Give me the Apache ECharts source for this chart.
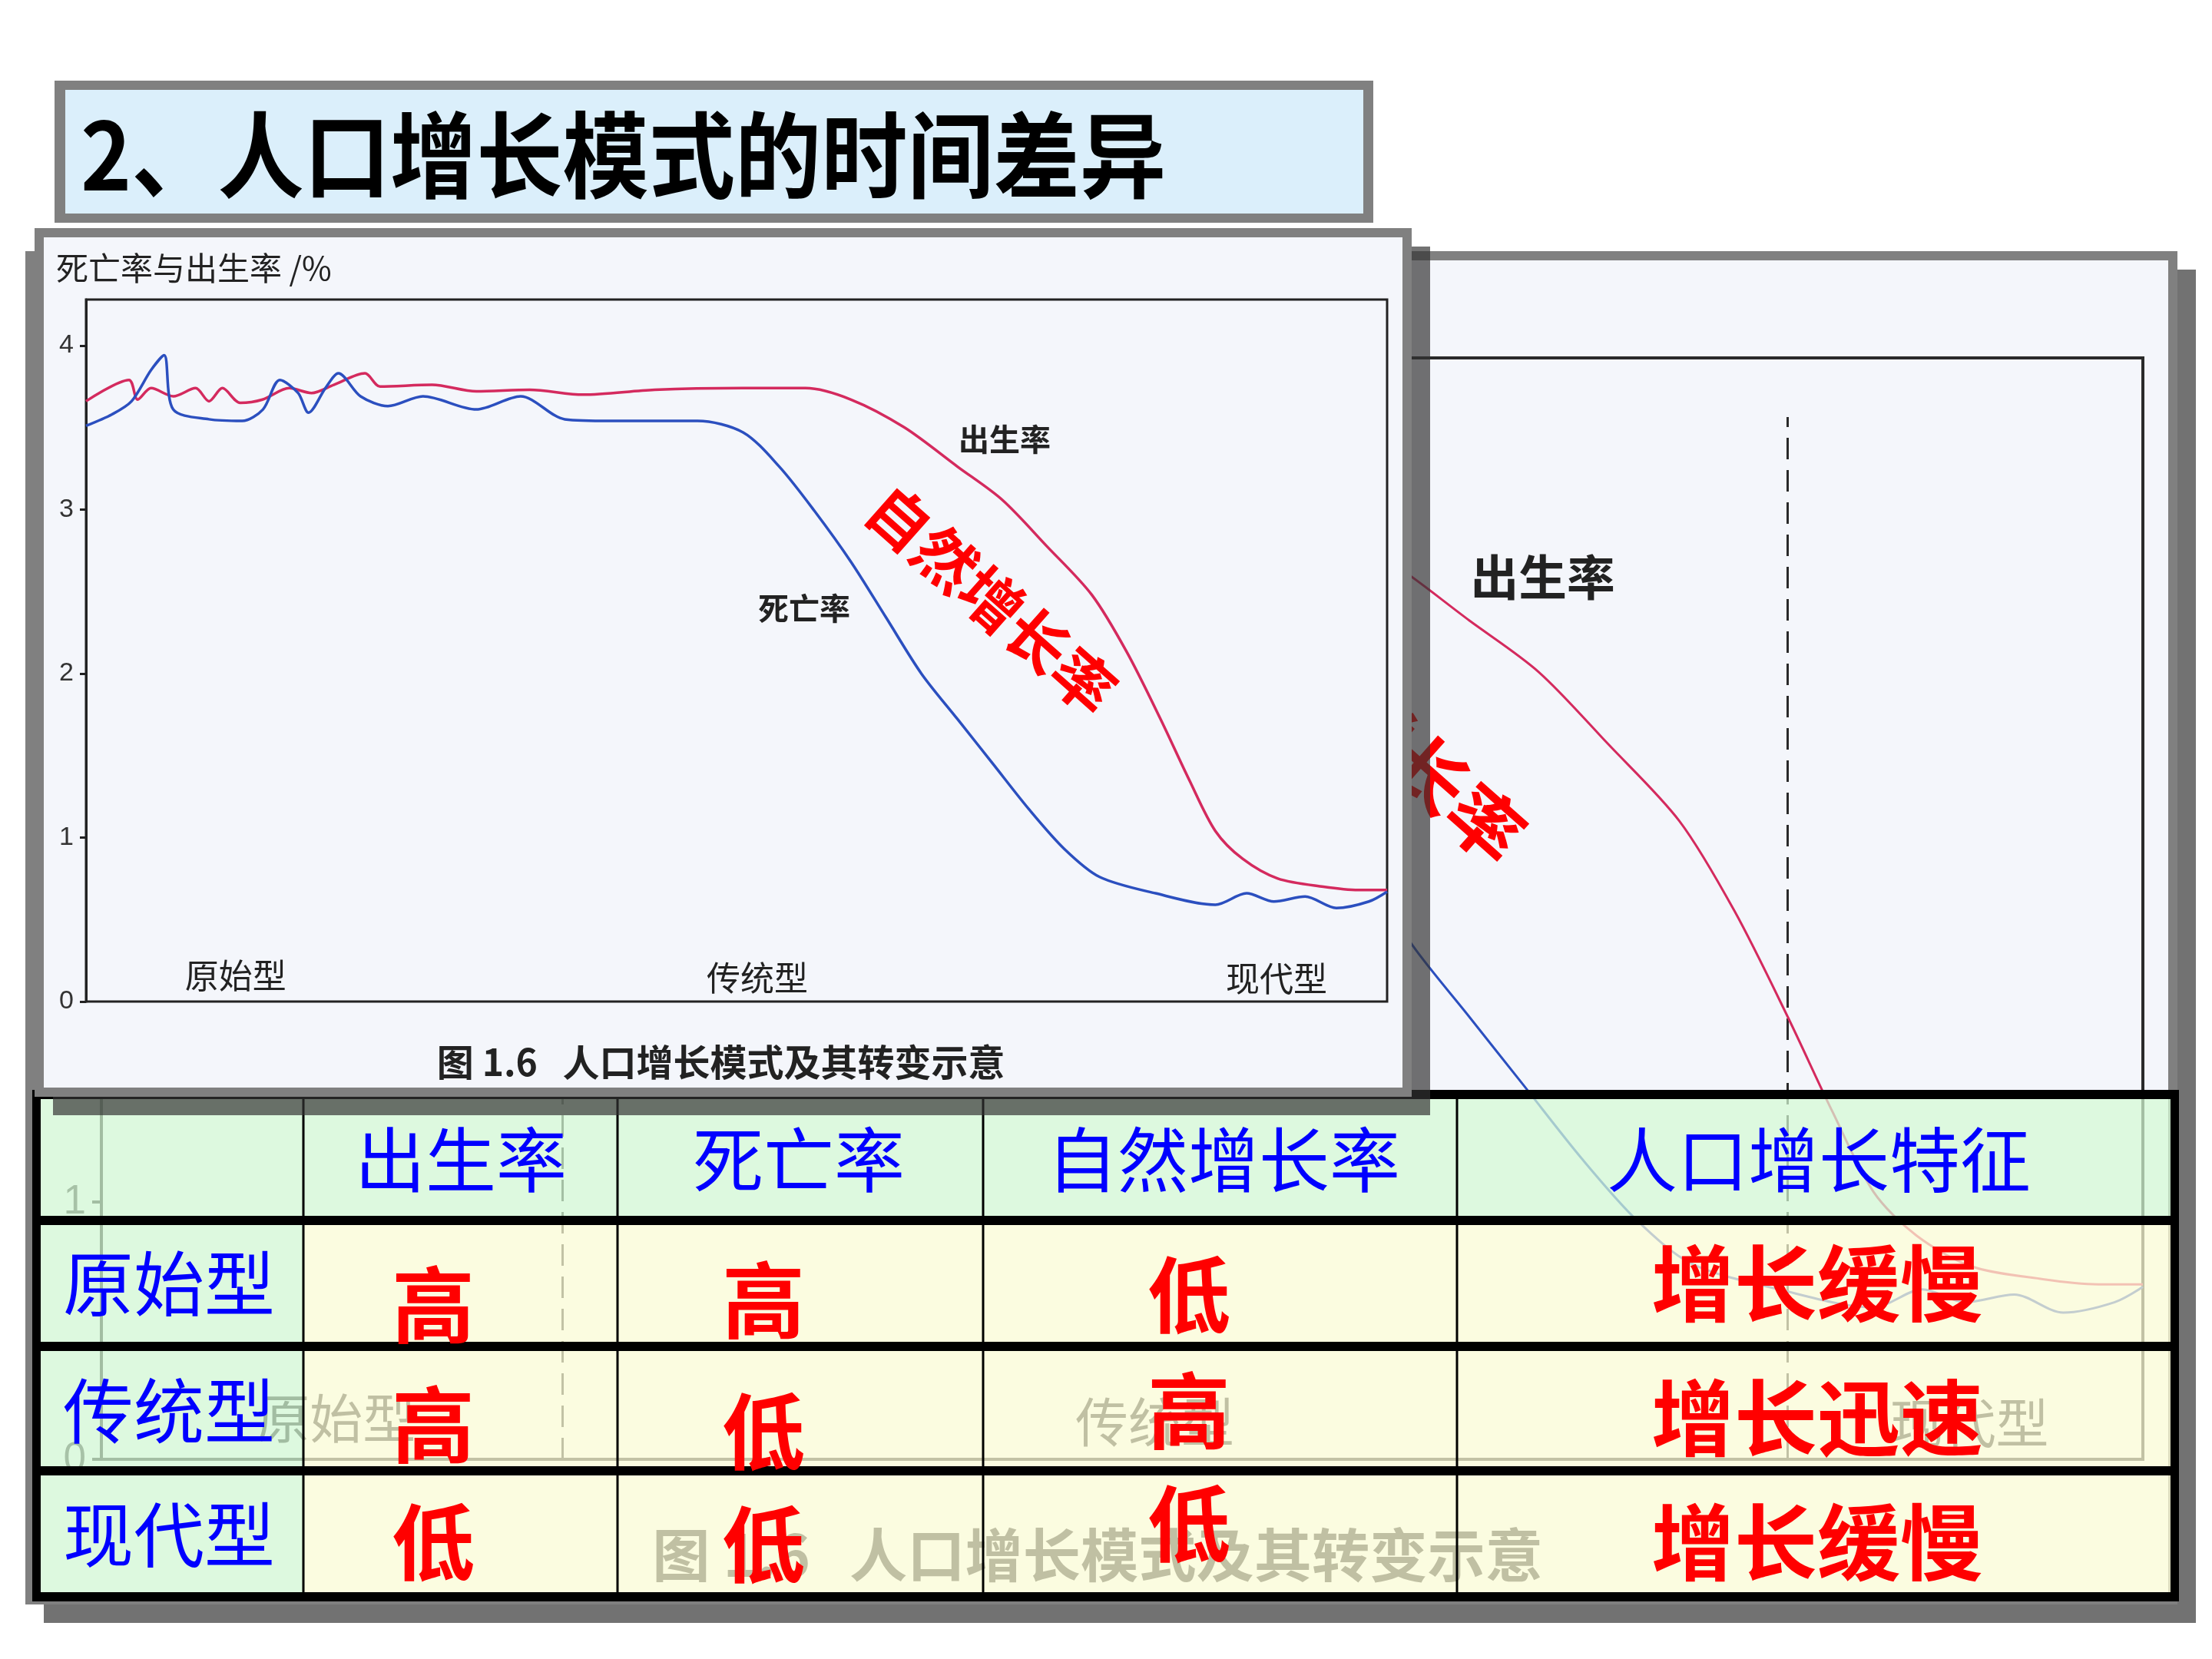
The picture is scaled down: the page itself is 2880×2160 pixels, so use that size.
<!DOCTYPE html>
<html lang="zh">
<head>
<meta charset="UTF-8">
<title>人口增长模式的时间差异</title>
<style>
  html, body { margin: 0; padding: 0; background: #fff; }
  #main { width: 2880px; height: 2160px; }
</style>
<script src="https://cdn.jsdelivr.net/npm/echarts@6/dist/echarts.min.js"></script>
</head>
<body>
<div id="main"></div>
<script>
// 曲线数据（横轴为演变进程 0-100）
var birthX = [0, 3.3, 3.97, 5.0, 6.71, 8.42, 9.45, 10.48, 11.85, 13.56, 15.62, 17.33, 19.04, 21.44, 22.6, 26.6, 30.0, 34.1, 38.2, 43.7,
  50.5, 55.3, 58.8, 62.9, 67.0, 70.4, 73.8, 77.3, 80.0, 82.6, 84.8, 86.8, 88.9, 91.6, 95.1, 97.8, 100];
var birthRate = [3.66, 3.79, 3.67, 3.74, 3.69, 3.74, 3.66, 3.74, 3.65, 3.67, 3.74, 3.71, 3.76, 3.83, 3.75, 3.76, 3.72, 3.73, 3.70, 3.73,
  3.74, 3.74, 3.67, 3.50, 3.26, 3.06, 2.78, 2.48, 2.13, 1.72, 1.35, 1.04, 0.87, 0.75, 0.70, 0.68, 0.68];
var deathX = [0, 2, 3.5, 5, 6, 6.7, 9.45, 12, 13.6, 14.9, 16.3, 17.1, 18.4, 19.4, 21.1, 23.2, 25.9, 30, 33.4, 36.8,
  40.3, 47, 50.5, 53.3, 56, 58.8, 61.5, 64.2, 67, 69.7, 72.5, 75.2, 77.9, 82.2, 86.8, 89.2, 91.3, 93.7, 96.1, 98.6, 100];
var deathRate = [3.51, 3.58, 3.66, 3.85, 3.94, 3.61, 3.55, 3.54, 3.61, 3.79, 3.71, 3.59, 3.74, 3.83, 3.69, 3.63, 3.69, 3.61, 3.69, 3.55,
  3.54, 3.54, 3.47, 3.26, 2.99, 2.68, 2.34, 2.00, 1.72, 1.45, 1.17, 0.93, 0.76, 0.66, 0.59, 0.66, 0.61, 0.64, 0.57, 0.61, 0.67];
var yTicks = [0, 1, 2, 3, 4];
var stageBounds = [22.6, 82.6];
var stageNames = ['原始型', '传统型', '现代型'];

// 表格
var tableHead = ['出生率', '死亡率', '自然增长率', '人口增长特征'];
var tableRows = ['原始型', '传统型', '现代型'];
var tableValues = [
  ['高', '高', '低', '增长缓慢'],
  ['高', '低', '高', '增长迅速'],
  ['低', '低', '低', '增长缓慢']
];
var titleText = '2、人口增长模式的时间差异';
var captionText = '图 1.6   人口增长模式及其转变示意';

var RED = '#d42a5e', BLUE = '#2b4fbf';
var FONT = '"Noto Sans CJK SC", "Noto Sans", sans-serif';
var K = 1.568; // 背景放大图的比例

function pairs(xs, ys) { return xs.map(function (x, i) { return [x, ys[i]]; }); }

function dashLines(top) {
  return stageBounds.map(function (x) { return [{ coord: [x, 0] }, { coord: [x, top] }]; });
}

function lineSeries(g, name, xs, ys, color, width, z, dash) {
  var s = {
    type: 'line', name: name, xAxisIndex: g, yAxisIndex: g,
    data: pairs(xs, ys), showSymbol: false, smooth: 0.3, z: z,
    lineStyle: { color: color, width: width }, silent: true
  };
  if (dash) {
    s.markLine = {
      silent: true, symbol: ['none', 'none'], label: { show: false },
      lineStyle: { type: dash, color: '#2a2a2a', width: g === 0 ? 3 : 2 },
      data: dashLines(4.05)
    };
  }
  return s;
}

function yAxisOf(g, z, size, tickLen, w) {
  return {
    gridIndex: g, type: 'value', min: 0, max: 4.28, interval: 1, z: z,
    axisLine: { show: true, lineStyle: { color: '#222', width: w } },
    axisTick: { show: true, length: tickLen, customValues: yTicks, lineStyle: { color: '#222', width: w } },
    axisLabel: {
      customValues: yTicks, fontSize: size, color: '#333', margin: tickLen + 8,
      fontFamily: '"Liberation Sans", Arial, sans-serif',
      formatter: function (v) { return Number.isInteger(v) ? String(v) : ''; }
    },
    splitLine: { show: false }
  };
}

function xAxisOf(g, z) {
  return {
    gridIndex: g, type: 'value', min: 0, max: 100, z: z,
    axisLine: { show: false }, axisTick: { show: false },
    axisLabel: { show: false }, splitLine: { show: false }
  };
}

var chart = echarts.init(document.getElementById('main'));
chart.setOption({
  animation: false,
  backgroundColor: '#ffffff',
  grid: [
    { left: 132, right: 90, top: 466, bottom: 260, show: true, borderColor: '#2a2a2a', borderWidth: 4, backgroundColor: 'transparent', z: 4 },
    { left: 112, right: 1074, top: 390, bottom: 856, show: true, borderColor: '#222', borderWidth: 3, backgroundColor: 'transparent', z: 13 }
  ],
  xAxis: [xAxisOf(0, 4), xAxisOf(1, 13)],
  yAxis: [yAxisOf(0, 4, 53, 12, 4), yAxisOf(1, 13, 34, 8, 3)],
  series: [
    lineSeries(0, '出生率', birthX, birthRate, RED, 3, 5, [28, 14]),
    lineSeries(0, '死亡率', deathX, deathRate, BLUE, 3, 5, null),
    lineSeries(1, '出生率', birthX, birthRate, RED, 3.5, 14, [18, 9]),
    lineSeries(1, '死亡率', deathX, deathRate, BLUE, 3.5, 14, null)
  ]
});

function px(g, x, y) { return chart.convertToPixel({ gridIndex: g }, [x, y]); }

function text(p, str, opt) {
  return {
    type: 'text', x: p[0], y: p[1], z: opt.z, rotation: opt.rotation || 0,
    scaleX: opt.scaleX || 1, silent: true,
    style: {
      text: str, fill: opt.color || '#222', fontSize: opt.size, fontFamily: FONT,
      fontWeight: opt.weight || 'normal', align: opt.align || 'center', verticalAlign: 'middle'
    }
  };
}

function rect(x, y, w, h, fill, z) {
  return { type: 'rect', silent: true, z: z, shape: { x: x, y: y, width: w, height: h }, style: { fill: fill } };
}

// 图中标注（数据坐标）
var ROT = -41.5 * Math.PI / 180;
var chartLabels = [
  { t: '死亡率与出生率 /%', at: [-2.3, 4.47], size: 42, align: 'left' },
  { t: '出生率', at: [70.6, 3.43], size: 40, weight: 'bold' },
  { t: '死亡率', at: [55.2, 2.40], size: 40, weight: 'bold' },
  { t: stageNames[0], at: [11.5, 0.16], size: 44 },
  { t: stageNames[1], at: [51.6, 0.145], size: 44 },
  { t: stageNames[2], at: [91.5, 0.14], size: 44 },
  { t: captionText, at: [48.8, -0.37], size: 48, weight: 'bold' }
];
var growthLabel = { t: '自然增长率', main: [69.6, 2.45], bg: [62.4, 2.85], size: 80, bgSize: 96 };

var g = [];
var SHADOW = 'rgba(50,50,50,0.69)';

// 背景放大图面板
g.push(rect(57, 351, 2802, 1762, SHADOW, 1));
g.push(rect(33, 327, 2802, 1762, '#808080', 2));
g.push(rect(45, 339, 2778, 1738, '#f4f6fb', 3));
chartLabels.forEach(function (l) {
  g.push(text(px(0, l.at[0], l.at[1]), l.t, {
    size: l.size * K, weight: l.weight, color: l.color, align: l.align, z: 6
  }));
});
g.push(text(px(0, growthLabel.bg[0], growthLabel.bg[1]), growthLabel.t, {
  size: growthLabel.bgSize, weight: 'bold', color: '#ff0000', rotation: ROT, z: 6
}));

// 表格
var tx0 = 42, tx1 = 2837;
var hLines = [1419, 1583, 1747, 1909, 2073];
var vLines = [395, 804, 1280, 1897];
var colEdges = [53].concat(vLines).concat([2826]);
for (var r = 0; r < 4; r++) {
  var y0 = hLines[r] + 12, y1 = hLines[r + 1];
  for (var c = 0; c < 5; c++) {
    var green = (r === 0 || c === 0);
    g.push(rect(colEdges[c], y0, colEdges[c + 1] - colEdges[c], y1 - y0,
      green ? 'rgba(212,250,212,0.72)' : 'rgba(254,254,214,0.72)', 7));
  }
}
hLines.forEach(function (y) { g.push(rect(tx0, y, tx1 - tx0, 12, '#000', 8)); });
g.push(rect(tx0, hLines[0], 11, hLines[4] + 12 - hLines[0], '#000', 8));
g.push(rect(tx1 - 11, hLines[0], 11, hLines[4] + 12 - hLines[0], '#000', 8));
vLines.forEach(function (x) { g.push(rect(x - 1.5, hLines[0], 3, hLines[4] + 12 - hLines[0], '#000', 8)); });

var headX = [600, 1040, 1593, 2368];
var rowY = [1671, 1837, 1998];
var cellDy = [[28, 22, 15, 0], [18, 27, 0, 9], [10, 13, -14, 10]];
tableHead.forEach(function (h, i) {
  g.push(text([headX[i], 1510], h, { size: 92, color: '#0000ff', z: 9 }));
});
tableRows.forEach(function (name, r) {
  g.push(text([220, rowY[r]], name, { size: 92, color: '#0000ff', z: 9 }));
  tableValues[r].forEach(function (v, c) {
    var cx = [564, 994, 1548, 2366][c];
    g.push(text([cx, rowY[r] + cellDy[r][c]], v, { size: 108, color: '#ff0000', weight: 'bold', z: 9 }));
  });
});

// 主图面板
g.push(rect(69, 321, 1793, 1131, SHADOW, 10));
g.push(rect(45, 297, 1793, 1131, '#808080', 11));
g.push(rect(57, 309, 1769, 1107, '#f4f6fb', 12));
chartLabels.forEach(function (l) {
  g.push(text(px(1, l.at[0], l.at[1]), l.t, {
    size: l.size, weight: l.weight, color: l.color, align: l.align, z: 15
  }));
});
g.push(text(px(1, growthLabel.main[0], growthLabel.main[1]), growthLabel.t, {
  size: growthLabel.size, weight: 'bold', color: '#ff0000', rotation: ROT, z: 15
}));

// 标题
g.push(rect(71, 105, 1717, 185, '#808080', 16));
g.push(rect(85, 117, 1690, 161, '#dbeffb', 17));
g.push(text([105, 202], titleText, { size: 122, weight: 'bold', color: '#000', align: 'left', scaleX: 0.92, z: 18 }));

chart.setOption({ graphic: g });
</script>
</body>
</html>
